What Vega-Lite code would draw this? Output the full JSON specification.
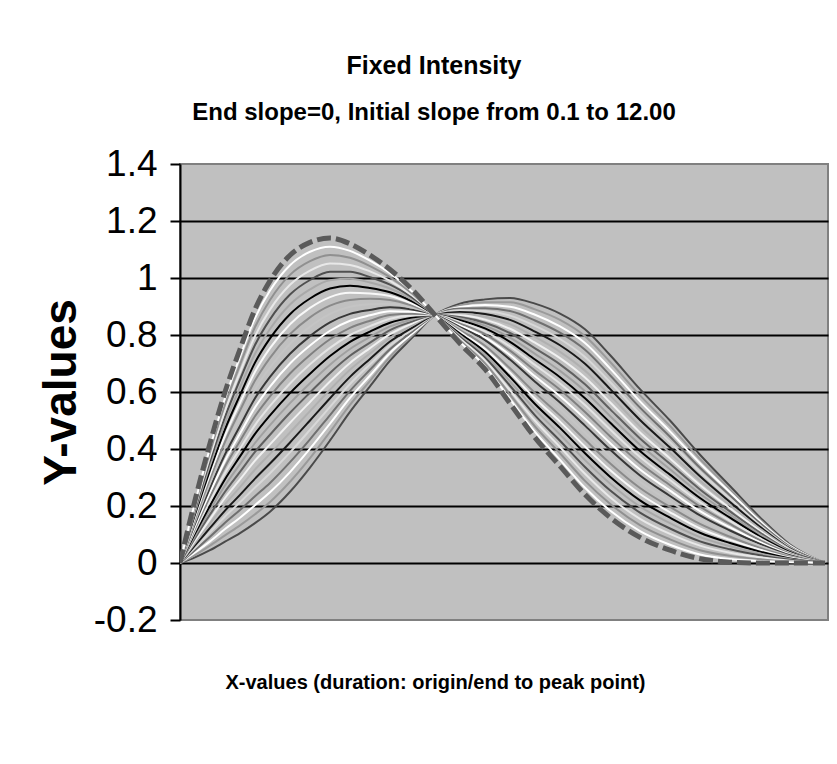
{
  "$schema": "https://vega.github.io/schema/vega-lite/v6.json",
  "width": 648,
  "height": 456,
  "autosize": {"type": "none"},
  "padding": {"left": 180, "top": 164, "right": 9, "bottom": 144},
  "background": "white",
  "config": {
    "view": {"fill": "#c0c0c0", "stroke": "#808080", "strokeWidth": 2},
    "font": "Liberation Sans"
  },
  "title": {
    "text": "Fixed Intensity",
    "subtitle": "End slope=0, Initial slope  from 0.1 to 12.00",
    "font": "Liberation Sans",
    "fontSize": 25,
    "fontWeight": "bold",
    "color": "black",
    "subtitleFont": "Liberation Sans",
    "subtitleFontSize": 24,
    "subtitleFontWeight": "bold",
    "subtitleColor": "black",
    "subtitlePadding": 22,
    "frame": "group",
    "anchor": "middle",
    "dx": -70,
    "offset": 20
  },
  "data": {
    "values": [
      {"x": 0, "a00": 0, "a01": 0, "a02": 0, "a03": 0, "a04": 0, "a05": 0, "a06": 0, "a07": 0, "a08": 0, "a09": 0, "a10": 0, "a11": 0, "a12": 0, "a13": 0, "a14": 0, "a15": 0, "a16": 0, "a17": 0, "a18": 0, "a19": 0, "a20": 0, "a21": 0, "a22": 0, "a23": 0, "a24": 0},
      {"x": 15, "a00": 0.02, "a01": 0.028, "a02": 0.037, "a03": 0.045, "a04": 0.053, "a05": 0.062, "a06": 0.07, "a07": 0.078, "a08": 0.087, "a09": 0.095, "a10": 0.103, "a11": 0.112, "a12": 0.12, "a13": 0.128, "a14": 0.137, "a15": 0.145, "a16": 0.153, "a17": 0.162, "a18": 0.17, "a19": 0.178, "a20": 0.187, "a21": 0.195, "a22": 0.203, "a23": 0.212, "a24": 0.22},
      {"x": 30, "a00": 0.045, "a01": 0.061, "a02": 0.076, "a03": 0.092, "a04": 0.108, "a05": 0.123, "a06": 0.139, "a07": 0.154, "a08": 0.17, "a09": 0.186, "a10": 0.201, "a11": 0.217, "a12": 0.233, "a13": 0.248, "a14": 0.264, "a15": 0.279, "a16": 0.295, "a17": 0.311, "a18": 0.326, "a19": 0.342, "a20": 0.358, "a21": 0.373, "a22": 0.389, "a23": 0.404, "a24": 0.42},
      {"x": 45, "a00": 0.075, "a01": 0.097, "a02": 0.119, "a03": 0.141, "a04": 0.163, "a05": 0.184, "a06": 0.206, "a07": 0.228, "a08": 0.25, "a09": 0.272, "a10": 0.294, "a11": 0.316, "a12": 0.338, "a13": 0.359, "a14": 0.381, "a15": 0.403, "a16": 0.425, "a17": 0.447, "a18": 0.469, "a19": 0.491, "a20": 0.513, "a21": 0.534, "a22": 0.556, "a23": 0.578, "a24": 0.6},
      {"x": 60, "a00": 0.105, "a01": 0.132, "a02": 0.159, "a03": 0.186, "a04": 0.213, "a05": 0.239, "a06": 0.266, "a07": 0.293, "a08": 0.32, "a09": 0.347, "a10": 0.374, "a11": 0.401, "a12": 0.428, "a13": 0.454, "a14": 0.481, "a15": 0.508, "a16": 0.535, "a17": 0.562, "a18": 0.589, "a19": 0.616, "a20": 0.643, "a21": 0.669, "a22": 0.696, "a23": 0.723, "a24": 0.75},
      {"x": 75, "a00": 0.14, "a01": 0.171, "a02": 0.203, "a03": 0.234, "a04": 0.265, "a05": 0.296, "a06": 0.328, "a07": 0.359, "a08": 0.39, "a09": 0.421, "a10": 0.453, "a11": 0.484, "a12": 0.515, "a13": 0.546, "a14": 0.578, "a15": 0.609, "a16": 0.64, "a17": 0.671, "a18": 0.703, "a19": 0.734, "a20": 0.765, "a21": 0.796, "a22": 0.828, "a23": 0.859, "a24": 0.89},
      {"x": 90, "a00": 0.18, "a01": 0.214, "a02": 0.248, "a03": 0.281, "a04": 0.315, "a05": 0.349, "a06": 0.383, "a07": 0.416, "a08": 0.45, "a09": 0.484, "a10": 0.518, "a11": 0.551, "a12": 0.585, "a13": 0.619, "a14": 0.653, "a15": 0.686, "a16": 0.72, "a17": 0.754, "a18": 0.788, "a19": 0.821, "a20": 0.855, "a21": 0.889, "a22": 0.923, "a23": 0.956, "a24": 0.99},
      {"x": 110, "a00": 0.25, "a01": 0.285, "a02": 0.319, "a03": 0.354, "a04": 0.388, "a05": 0.423, "a06": 0.458, "a07": 0.492, "a08": 0.527, "a09": 0.561, "a10": 0.596, "a11": 0.63, "a12": 0.665, "a13": 0.7, "a14": 0.734, "a15": 0.769, "a16": 0.803, "a17": 0.838, "a18": 0.873, "a19": 0.907, "a20": 0.942, "a21": 0.976, "a22": 1.011, "a23": 1.045, "a24": 1.08},
      {"x": 130, "a00": 0.335, "a01": 0.368, "a02": 0.401, "a03": 0.434, "a04": 0.467, "a05": 0.5, "a06": 0.533, "a07": 0.565, "a08": 0.598, "a09": 0.631, "a10": 0.664, "a11": 0.697, "a12": 0.73, "a13": 0.763, "a14": 0.796, "a15": 0.829, "a16": 0.862, "a17": 0.895, "a18": 0.928, "a19": 0.96, "a20": 0.993, "a21": 1.026, "a22": 1.059, "a23": 1.092, "a24": 1.125},
      {"x": 150, "a00": 0.43, "a01": 0.46, "a02": 0.489, "a03": 0.519, "a04": 0.548, "a05": 0.578, "a06": 0.608, "a07": 0.637, "a08": 0.667, "a09": 0.696, "a10": 0.726, "a11": 0.755, "a12": 0.785, "a13": 0.815, "a14": 0.844, "a15": 0.874, "a16": 0.903, "a17": 0.933, "a18": 0.963, "a19": 0.992, "a20": 1.022, "a21": 1.051, "a22": 1.081, "a23": 1.11, "a24": 1.14},
      {"x": 170, "a00": 0.53, "a01": 0.555, "a02": 0.579, "a03": 0.604, "a04": 0.628, "a05": 0.653, "a06": 0.678, "a07": 0.702, "a08": 0.727, "a09": 0.751, "a10": 0.776, "a11": 0.8, "a12": 0.825, "a13": 0.85, "a14": 0.874, "a15": 0.899, "a16": 0.923, "a17": 0.948, "a18": 0.973, "a19": 0.997, "a20": 1.022, "a21": 1.046, "a22": 1.071, "a23": 1.095, "a24": 1.12},
      {"x": 190, "a00": 0.62, "a01": 0.639, "a02": 0.658, "a03": 0.678, "a04": 0.697, "a05": 0.716, "a06": 0.735, "a07": 0.754, "a08": 0.773, "a09": 0.793, "a10": 0.812, "a11": 0.831, "a12": 0.85, "a13": 0.869, "a14": 0.888, "a15": 0.908, "a16": 0.927, "a17": 0.946, "a18": 0.965, "a19": 0.984, "a20": 1.003, "a21": 1.023, "a22": 1.042, "a23": 1.061, "a24": 1.08},
      {"x": 210, "a00": 0.71, "a01": 0.723, "a02": 0.737, "a03": 0.75, "a04": 0.763, "a05": 0.777, "a06": 0.79, "a07": 0.803, "a08": 0.817, "a09": 0.83, "a10": 0.843, "a11": 0.857, "a12": 0.87, "a13": 0.883, "a14": 0.897, "a15": 0.91, "a16": 0.923, "a17": 0.937, "a18": 0.95, "a19": 0.963, "a20": 0.977, "a21": 0.99, "a22": 1.003, "a23": 1.017, "a24": 1.03},
      {"x": 232, "a00": 0.79, "a01": 0.797, "a02": 0.804, "a03": 0.811, "a04": 0.818, "a05": 0.825, "a06": 0.833, "a07": 0.84, "a08": 0.847, "a09": 0.854, "a10": 0.861, "a11": 0.868, "a12": 0.875, "a13": 0.882, "a14": 0.889, "a15": 0.896, "a16": 0.903, "a17": 0.91, "a18": 0.918, "a19": 0.925, "a20": 0.932, "a21": 0.939, "a22": 0.946, "a23": 0.953, "a24": 0.96},
      {"x": 255, "a00": 0.87, "a01": 0.87, "a02": 0.87, "a03": 0.87, "a04": 0.87, "a05": 0.87, "a06": 0.87, "a07": 0.87, "a08": 0.87, "a09": 0.87, "a10": 0.87, "a11": 0.87, "a12": 0.87, "a13": 0.87, "a14": 0.87, "a15": 0.87, "a16": 0.87, "a17": 0.87, "a18": 0.87, "a19": 0.87, "a20": 0.87, "a21": 0.87, "a22": 0.87, "a23": 0.87, "a24": 0.87},
      {"x": 280, "a00": 0.91, "a01": 0.904, "a02": 0.898, "a03": 0.893, "a04": 0.887, "a05": 0.881, "a06": 0.875, "a07": 0.869, "a08": 0.863, "a09": 0.858, "a10": 0.852, "a11": 0.846, "a12": 0.84, "a13": 0.834, "a14": 0.828, "a15": 0.823, "a16": 0.817, "a17": 0.811, "a18": 0.805, "a19": 0.799, "a20": 0.793, "a21": 0.788, "a22": 0.782, "a23": 0.776, "a24": 0.77},
      {"x": 305, "a00": 0.925, "a01": 0.915, "a02": 0.905, "a03": 0.894, "a04": 0.884, "a05": 0.874, "a06": 0.864, "a07": 0.854, "a08": 0.843, "a09": 0.833, "a10": 0.823, "a11": 0.813, "a12": 0.803, "a13": 0.792, "a14": 0.782, "a15": 0.772, "a16": 0.762, "a17": 0.751, "a18": 0.741, "a19": 0.731, "a20": 0.721, "a21": 0.711, "a22": 0.7, "a23": 0.69, "a24": 0.68},
      {"x": 330, "a00": 0.93, "a01": 0.915, "a02": 0.899, "a03": 0.884, "a04": 0.868, "a05": 0.853, "a06": 0.838, "a07": 0.822, "a08": 0.807, "a09": 0.791, "a10": 0.776, "a11": 0.76, "a12": 0.745, "a13": 0.73, "a14": 0.714, "a15": 0.699, "a16": 0.683, "a17": 0.668, "a18": 0.653, "a19": 0.637, "a20": 0.622, "a21": 0.606, "a22": 0.591, "a23": 0.575, "a24": 0.56},
      {"x": 355, "a00": 0.91, "a01": 0.89, "a02": 0.871, "a03": 0.851, "a04": 0.832, "a05": 0.812, "a06": 0.793, "a07": 0.773, "a08": 0.753, "a09": 0.734, "a10": 0.714, "a11": 0.695, "a12": 0.675, "a13": 0.655, "a14": 0.636, "a15": 0.616, "a16": 0.597, "a17": 0.577, "a18": 0.558, "a19": 0.538, "a20": 0.518, "a21": 0.499, "a22": 0.479, "a23": 0.46, "a24": 0.44},
      {"x": 380, "a00": 0.875, "a01": 0.853, "a02": 0.83, "a03": 0.808, "a04": 0.786, "a05": 0.764, "a06": 0.741, "a07": 0.719, "a08": 0.697, "a09": 0.674, "a10": 0.652, "a11": 0.63, "a12": 0.608, "a13": 0.585, "a14": 0.563, "a15": 0.541, "a16": 0.518, "a17": 0.496, "a18": 0.474, "a19": 0.451, "a20": 0.429, "a21": 0.407, "a22": 0.385, "a23": 0.362, "a24": 0.34},
      {"x": 405, "a00": 0.82, "a01": 0.796, "a02": 0.772, "a03": 0.748, "a04": 0.723, "a05": 0.699, "a06": 0.675, "a07": 0.651, "a08": 0.627, "a09": 0.603, "a10": 0.578, "a11": 0.554, "a12": 0.53, "a13": 0.506, "a14": 0.482, "a15": 0.458, "a16": 0.433, "a17": 0.409, "a18": 0.385, "a19": 0.361, "a20": 0.337, "a21": 0.313, "a22": 0.288, "a23": 0.264, "a24": 0.24},
      {"x": 430, "a00": 0.73, "a01": 0.706, "a02": 0.683, "a03": 0.659, "a04": 0.635, "a05": 0.611, "a06": 0.588, "a07": 0.564, "a08": 0.54, "a09": 0.516, "a10": 0.493, "a11": 0.469, "a12": 0.445, "a13": 0.421, "a14": 0.398, "a15": 0.374, "a16": 0.35, "a17": 0.326, "a18": 0.303, "a19": 0.279, "a20": 0.255, "a21": 0.231, "a22": 0.208, "a23": 0.184, "a24": 0.16},
      {"x": 460, "a00": 0.61, "a01": 0.588, "a02": 0.567, "a03": 0.545, "a04": 0.523, "a05": 0.502, "a06": 0.48, "a07": 0.458, "a08": 0.437, "a09": 0.415, "a10": 0.393, "a11": 0.372, "a12": 0.35, "a13": 0.328, "a14": 0.307, "a15": 0.285, "a16": 0.263, "a17": 0.242, "a18": 0.22, "a19": 0.198, "a20": 0.177, "a21": 0.155, "a22": 0.133, "a23": 0.112, "a24": 0.09},
      {"x": 490, "a00": 0.5, "a01": 0.481, "a02": 0.462, "a03": 0.443, "a04": 0.424, "a05": 0.405, "a06": 0.386, "a07": 0.367, "a08": 0.348, "a09": 0.329, "a10": 0.31, "a11": 0.291, "a12": 0.273, "a13": 0.254, "a14": 0.235, "a15": 0.216, "a16": 0.197, "a17": 0.178, "a18": 0.159, "a19": 0.14, "a20": 0.121, "a21": 0.102, "a22": 0.083, "a23": 0.064, "a24": 0.045},
      {"x": 520, "a00": 0.38, "a01": 0.365, "a02": 0.35, "a03": 0.334, "a04": 0.319, "a05": 0.304, "a06": 0.289, "a07": 0.274, "a08": 0.258, "a09": 0.243, "a10": 0.228, "a11": 0.213, "a12": 0.198, "a13": 0.182, "a14": 0.167, "a15": 0.152, "a16": 0.137, "a17": 0.121, "a18": 0.106, "a19": 0.091, "a20": 0.076, "a21": 0.061, "a22": 0.045, "a23": 0.03, "a24": 0.015},
      {"x": 550, "a00": 0.27, "a01": 0.259, "a02": 0.248, "a03": 0.237, "a04": 0.226, "a05": 0.214, "a06": 0.203, "a07": 0.192, "a08": 0.181, "a09": 0.17, "a10": 0.159, "a11": 0.148, "a12": 0.137, "a13": 0.125, "a14": 0.114, "a15": 0.103, "a16": 0.092, "a17": 0.081, "a18": 0.07, "a19": 0.059, "a20": 0.048, "a21": 0.036, "a22": 0.025, "a23": 0.014, "a24": 0.003},
      {"x": 580, "a00": 0.16, "a01": 0.153, "a02": 0.147, "a03": 0.14, "a04": 0.133, "a05": 0.127, "a06": 0.12, "a07": 0.113, "a08": 0.107, "a09": 0.1, "a10": 0.093, "a11": 0.087, "a12": 0.08, "a13": 0.073, "a14": 0.067, "a15": 0.06, "a16": 0.053, "a17": 0.047, "a18": 0.04, "a19": 0.033, "a20": 0.027, "a21": 0.02, "a22": 0.013, "a23": 0.007, "a24": 0},
      {"x": 610, "a00": 0.065, "a01": 0.062, "a02": 0.06, "a03": 0.057, "a04": 0.054, "a05": 0.051, "a06": 0.049, "a07": 0.046, "a08": 0.043, "a09": 0.041, "a10": 0.038, "a11": 0.035, "a12": 0.033, "a13": 0.03, "a14": 0.027, "a15": 0.024, "a16": 0.022, "a17": 0.019, "a18": 0.016, "a19": 0.014, "a20": 0.011, "a21": 0.008, "a22": 0.005, "a23": 0.003, "a24": 0},
      {"x": 645, "a00": 0, "a01": 0, "a02": 0, "a03": 0, "a04": 0, "a05": 0, "a06": 0, "a07": 0, "a08": 0, "a09": 0, "a10": 0, "a11": 0, "a12": 0, "a13": 0, "a14": 0, "a15": 0, "a16": 0, "a17": 0, "a18": 0, "a19": 0, "a20": 0, "a21": 0, "a22": 0, "a23": 0, "a24": 0}
    ]
  },
  "encoding": {
    "x": {
      "field": "x",
      "type": "quantitative",
      "scale": {"domain": [0, 648], "nice": false, "zero": false},
      "axis": {
        "title": "X-values (duration: origin/end to peak point)",
        "labels": false,
        "ticks": false,
        "domain": false,
        "grid": false,
        "titleFont": "Liberation Sans",
        "titleFontSize": 20,
        "titleFontWeight": "bold",
        "titleColor": "black",
        "titleX": 255,
        "titleY": 52
      }
    }
  },
  "layer": [
    {
      "transform": [
        {"fold": ["a00", "a01", "a02", "a03", "a04", "a05", "a06", "a07", "a08", "a09", "a10", "a11", "a12", "a13", "a14", "a15", "a16", "a17", "a18", "a19", "a20", "a21", "a22", "a23"], "as": ["curve", "y"]}
      ],
      "mark": {"type": "line", "interpolate": "monotone", "strokeWidth": 2, "clip": true},
      "encoding": {
        "y": {
          "field": "y",
          "type": "quantitative",
          "scale": {"domain": [-0.2, 1.4], "nice": false, "zero": false},
          "axis": {
            "title": "Y-values",
            "values": [-0.2, 0, 0.2, 0.4, 0.6, 0.8, 1, 1.2, 1.4],
            "labelExpr": "'' + datum.value",
            "labelFont": "Liberation Sans",
            "labelFontSize": 37,
            "labelColor": "black",
            "labelPadding": 13,
            "tickColor": "black",
            "tickSize": 10,
            "tickWidth": 2,
            "domainColor": "black",
            "domainWidth": 2,
            "gridColor": "black",
            "gridWidth": 2,
            "gridOpacity": {"condition": {"test": "datum.value == 1.4 || datum.value == -0.2", "value": 0}, "value": 1},
            "titleFont": "Liberation Sans",
            "titleFontSize": 46,
            "titleFontWeight": "bold",
            "titleColor": "black",
            "titlePadding": 8
          }
        },
        "color": {
          "field": "curve",
          "type": "nominal",
          "legend": null,
          "scale": {
            "domain": ["a00", "a01", "a02", "a03", "a04", "a05", "a06", "a07", "a08", "a09", "a10", "a11", "a12", "a13", "a14", "a15", "a16", "a17", "a18", "a19", "a20", "a21", "a22", "a23"],
            "range": ["#4a4a4a", "#9a9a9a", "#ffffff", "#707070", "#d8d8d8", "#1a1a1a", "#b0b0b0", "#f0f0f0", "#606060", "#a0a0a0", "#000000", "#e4e4e4", "#808080", "#ffffff", "#383838", "#c4c4c4", "#8a8a8a", "#f8f8f8", "#000000", "#a8a8a8", "#505050", "#e8e8e8", "#909090", "#ffffff"]
          }
        }
      }
    },
    {
      "mark": {"type": "line", "interpolate": "monotone", "strokeWidth": 5, "strokeDash": [14, 5], "color": "#5a5a5a", "clip": true},
      "encoding": {
        "y": {"field": "a24", "type": "quantitative"}
      }
    }
  ]
}
